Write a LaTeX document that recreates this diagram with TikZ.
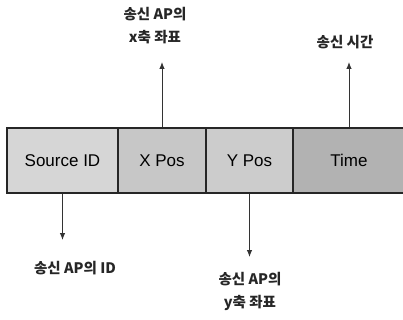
\documentclass[tikz,border=0pt]{standalone}
\usepackage{fontspec}
\setmainfont{Liberation Sans}
\newfontfamily\kr{Noto Sans CJK KR}
\usetikzlibrary{arrows.meta}
\tikzset{
  field/.style={draw=black!85, line width=1.3pt, minimum height=65pt, inner sep=0pt, font=\fontsize{17}{19}\selectfont},
  lbl/.style={align=center, font=\kr\fontsize{14.5}{23}\selectfont\bfseries, text=black!85},
  ptr/.style={draw=black!80, line width=0.9pt, -{Latex[length=7pt,width=5.5pt]}}
}
\begin{document}
\begin{tikzpicture}[x=1pt,y=-1pt]
\useasboundingbox (0,0) rectangle (403,320);
\node[field, fill=black!16, minimum width=111pt] (src) at (62.5,160.5) {Source ID};
\node[field, fill=black!22, minimum width=88pt] (xp) at (162,160.5) {X Pos};
\node[field, fill=black!20, minimum width=87pt] (yp) at (249.5,160.5) {Y Pos};
\node[field, fill=black!30, minimum width=112pt] (tm) at (349,160.5) {Time};
\node[lbl] (lx) at (155,26) {송신 AP의\\x축 좌표};
\node[lbl] (lt) at (345,42) {송신 시간};
\node[lbl] (ls) at (75,268) {송신 AP의 ID};
\node[lbl] (ly) at (250,291) {송신 AP의\\y축 좌표};
\coordinate (tx) at (162,62);
\coordinate (tt) at (349,62);
\coordinate (ts) at (62.5,240);
\coordinate (ty) at (249.5,257);
\draw[ptr] (xp.north) -- (tx);
\draw[ptr] (tm.north) -- (tt);
\draw[ptr] (src.south) -- (ts);
\draw[ptr] (yp.south) -- (ty);
\end{tikzpicture}
\end{document}
